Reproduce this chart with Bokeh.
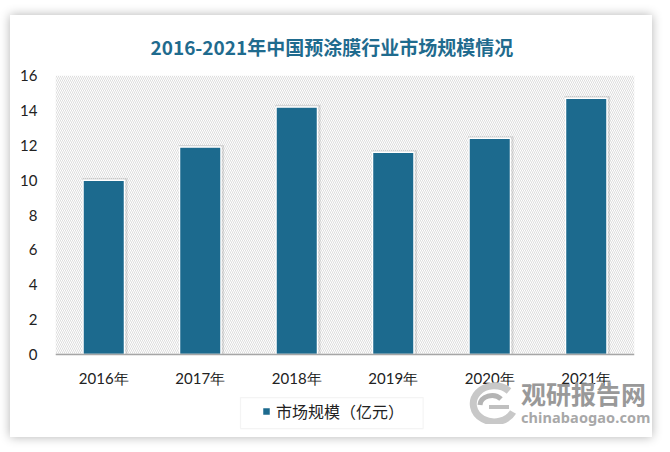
from bokeh.plotting import figure
from bokeh.models import (ColumnDataSource, BoxAnnotation, Legend, LegendItem,
                          FixedTicker, Range1d, Div, Column)
from bokeh.transform import dodge
from bokeh.embed import file_html
from bokeh.resources import INLINE

years = ["2016年", "2017年", "2018年", "2019年", "2020年", "2021年"]
market_size = [10.0, 11.9, 14.2, 11.6, 12.4, 14.7]
y_ticks = [0, 2, 4, 6, 8, 10, 12, 14, 16]
title_text = "2016-2021年中国预涂膜行业市场规模情况"
series_name = "市场规模（亿元）"
watermark_cn = "观研报告网"
watermark_en = "chinabaogao.com"

BAR = "#1C6A8E"
src = ColumnDataSource(dict(x=years, top=market_size,
                            shadow_top=[v + 0.12 for v in market_size]))

# frame spans the chart area plus the strip below it (x labels + legend);
# the x axis is pinned at y = 0
p = figure(x_range=years, y_range=Range1d(-4.64, 16), width=642, height=422,
           output_backend="svg", toolbar_location=None,
           min_border_left=45, min_border_right=18, min_border_top=60,
           min_border_bottom=2, background_fill_color="white",
           border_fill_color="white", outline_line_color=None)
p.styles = {"margin-left": "10px", "margin-top": "15px",
            "box-shadow": "0 0 10px rgba(0,0,0,0.30)"}

p.title.text = title_text
p.title.align = "left"
p.title.offset = 95
p.title.text_font = "Noto Sans CJK SC"
p.title.text_font_size = "19px"
p.title.text_font_style = "bold"
p.title.text_color = "#1F6B8E"
p.title.text_line_height = 1.0
p.title.standoff = 31

hatch = BoxAnnotation(bottom=0, fill_color="white", fill_alpha=0,
                      hatch_pattern="left_diagonal_line",
                      hatch_color="#DDDDDD", hatch_scale=4, hatch_weight=1,
                      line_color=None, level="underlay")
p.add_layout(hatch)

p.vbar(x=dodge("x", 0.012, range=p.x_range), top="shadow_top", width=0.47, source=src,
       fill_color="black", fill_alpha=0.10, line_color=None)
r = p.vbar(x="x", top="top", width=0.43, source=src, fill_color=BAR,
           line_color="white", line_width=1.5)

p.xgrid.grid_line_color = None
p.ygrid.grid_line_color = None

p.yaxis.ticker = FixedTicker(ticks=y_ticks)
p.yaxis.axis_line_color = None
p.yaxis.major_tick_line_color = None
p.yaxis.minor_tick_line_color = None
p.yaxis.major_label_text_font = "Lato"
p.yaxis.major_label_text_font_size = "15px"
p.yaxis.major_label_text_color = "#222222"
p.yaxis.major_label_standoff = 12

p.xaxis.fixed_location = 0
p.xaxis.axis_line_color = "#A6A6A6"
p.xaxis.axis_line_width = 1.5
p.xaxis.major_tick_line_color = None
p.xaxis.minor_tick_line_color = None
p.xaxis.major_label_text_font = "Lato"
p.xaxis.major_label_text_font_size = "15px"
p.xaxis.major_label_text_color = "#222222"
p.xaxis.major_label_standoff = 8

# legend frame (decorative border around the legend entry)
legend_box = BoxAnnotation(left=1.917, right=3.81, top=-2.466, bottom=-4.244,
                           fill_color="white", fill_alpha=1,
                           line_color="#D9D9D9", line_width=1.2)
p.add_layout(legend_box)

legend = Legend(items=[LegendItem(label=series_name, renderers=[r])],
                orientation="horizontal", location=(206, 12),
                border_line_color=None, background_fill_alpha=0,
                label_text_font="Noto Sans CJK SC", label_text_font_size="16px",
                label_text_color="#222222", glyph_width=10, glyph_height=10,
                padding=0, margin=0, spacing=0, label_standoff=5)
p.add_layout(legend)

logo_svg = (
    '<svg width="52" height="42" viewBox="0 0 52 42" style="position:absolute;left:0;top:5px">'
    '<path d="M44 9 A21 18 0 1 0 48 30" fill="none" stroke="#C8C8C8" stroke-width="7"/>'
    '<path d="M15 23 A12 10 0 0 1 36 17" fill="none" stroke="#B4B4B4" stroke-width="5"/>'
    '<path d="M24 25 L44 25" stroke="#C0C0C0" stroke-width="4"/>'
    '</svg>'
)
wm_html = (
    '<div style="position:relative;width:185px;height:52px;">' + logo_svg +
    '<div style="position:absolute;left:56px;top:3px;font-family:\'Noto Sans CJK SC\';'
    'font-weight:bold;font-size:25px;line-height:27px;color:#999999;">'
    + watermark_cn + '</div>'
    '<div style="position:absolute;left:56px;top:32px;font-family:\'Noto Sans\';'
    'font-weight:bold;font-size:14.5px;line-height:16px;color:#A8A8A8;letter-spacing:0.1px;">'
    + watermark_en + '</div></div>'
)
wm = Div(text=wm_html, width=185, height=52,
         styles={"position": "absolute", "left": "460px", "top": "372px"})

layout = Column(children=[p, wm])
open("out.html", "w").write(file_html(layout, INLINE))
